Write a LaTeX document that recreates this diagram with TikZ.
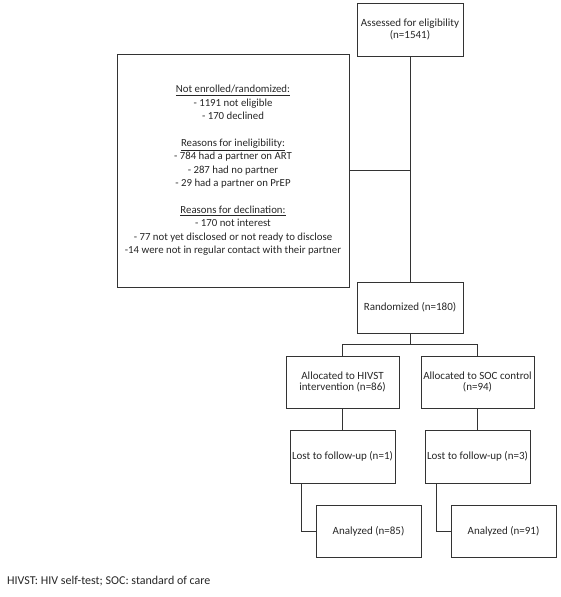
\documentclass[tikz,border=0pt]{standalone}
\usepackage{fontspec}
\setmainfont{Carlito}
\begin{document}
\begin{tikzpicture}[x=1pt,y=-1pt,
  box/.style={draw=black!80, line width=0.9pt, align=center, inner sep=0pt, font=\fontsize{11}{11.7}\selectfont, text=black!85},
  conn/.style={draw=black!80, line width=0.9pt}]
\useasboundingbox (0,0) rectangle (560,597);
\node[box, minimum width=106pt, minimum height=53pt] (assess) at (410,29.5) {Assessed for eligibility\\(n=1541)};
\node[box, minimum width=232pt, minimum height=233pt, font=\fontsize{10.8}{13.4}\selectfont] (excl) at (233,170.5) {\underline{Not enrolled/randomized:}\\- 1191 not eligible\\- 170 declined\\[13.4pt]\underline{Reasons for ineligibility:}\\- 784 had a partner on ART\\- 287 had no partner\\- 29 had a partner on PrEP\\[13.4pt]\underline{Reasons for declination:}\\- 170 not interest\\- 77 not yet disclosed or not ready to disclose\\-14 were not in regular contact with their partner};
\node[box, minimum width=106pt, minimum height=51pt] (rand) at (410,307.5) {Randomized (n=180)};
\node[box, minimum width=113pt, minimum height=52pt] (al1) at (342.5,382) {Allocated to HIVST\\intervention (n=86)};
\node[box, minimum width=113pt, minimum height=52pt] (al2) at (477.5,382) {Allocated to SOC control\\(n=94)};
\node[box, minimum width=105pt, minimum height=53pt] (lo1) at (342.5,456.5) {Lost to follow-up (n=1)};
\node[box, minimum width=105pt, minimum height=53pt] (lo2) at (477.5,456.5) {Lost to follow-up (n=3)};
\node[box, minimum width=105pt, minimum height=52pt] (an1) at (368.5,531) {Analyzed (n=85)};
\node[box, minimum width=105pt, minimum height=52pt] (an2) at (503.5,531) {Analyzed (n=91)};
\node[anchor=west, font=\fontsize{12}{14}\selectfont, text=black!85, inner sep=0pt] (note) at (7,581) {HIVST: HIV self-test; SOC: standard of care};
\coordinate (br) at (410,344);
\coordinate (e1) at (301,483.5);
\coordinate (e2) at (436,483.5);
\draw[conn] (assess.south) -- (rand.north);
\draw[conn] (excl.east) -- (assess.south |- excl.east);
\draw[conn] (rand.south) -- (br);
\draw[conn] (al1.north) -- (al1.north |- br) -- (al2.north |- br) -- (al2.north);
\draw[conn] (al1.south) -- (lo1.north);
\draw[conn] (al2.south) -- (lo2.north);
\draw[conn] (e1) -- (e1 |- an1.west) -- (an1.west);
\draw[conn] (e2) -- (e2 |- an2.west) -- (an2.west);
\end{tikzpicture}
\end{document}
